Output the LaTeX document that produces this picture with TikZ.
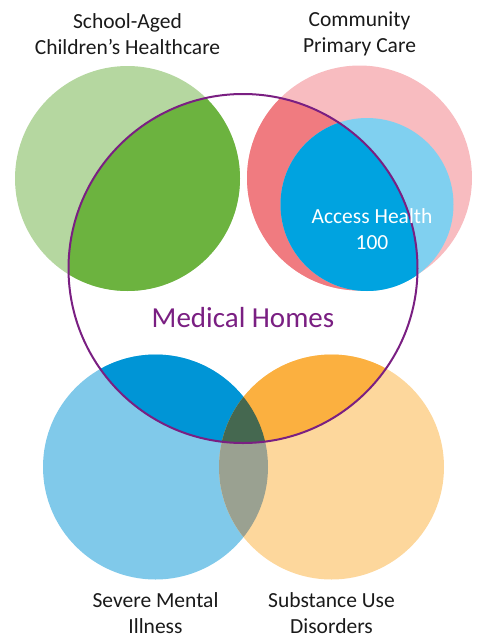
\documentclass[tikz,border=0pt]{standalone}
\usepackage{fontspec}
\setmainfont{Carlito}
\definecolor{greenL}{HTML}{B5D7A0}
\definecolor{greenD}{HTML}{6CB33F}
\definecolor{pinkL}{HTML}{F8BCC0}
\definecolor{pinkD}{HTML}{F07B80}
\definecolor{cyanL}{HTML}{80D0F0}
\definecolor{cyanD}{HTML}{00A3E0}
\definecolor{blueL}{HTML}{80C9EA}
\definecolor{blueD}{HTML}{0095D6}
\definecolor{orangeL}{HTML}{FDD79C}
\definecolor{orangeD}{HTML}{FBB040}
\definecolor{grayL}{HTML}{9AA191}
\definecolor{grayD}{HTML}{456850}
\definecolor{purpleM}{HTML}{7A1F82}
\definecolor{textC}{HTML}{1A1A1A}
\begin{document}
\begin{tikzpicture}[x=1pt,y=-1pt,
  lbl/.style={align=center,text=textC,font=\fontsize{21.5}{26}\selectfont,inner sep=0pt},
  inlbl/.style={align=center,text=white,font=\fontsize{21.5}{26}\selectfont,inner sep=0pt},
  bigl/.style={text=purpleM,font=\fontsize{29}{34}\selectfont,inner sep=0pt}]
\useasboundingbox (0,0) rectangle (477,638);
\def\MH{(243,268.5) circle[radius=174.5pt]}
\def\GC{(127.5,178.5) circle[radius=112.5pt]}
\def\PC{(359.5,178) circle[radius=112.5pt]}
\def\CC{(367,204.5) circle[radius=86.5pt]}
\def\BC{(155.5,467) circle[radius=112.5pt]}
\def\OC{(331.5,467) circle[radius=112.5pt]}
% top-left
\fill[greenL] \GC;
\begin{scope}\clip \MH; \fill[greenD] \GC; \end{scope}
% top-right
\fill[pinkL] \PC;
\begin{scope}\clip \MH; \fill[pinkD] \PC; \end{scope}
\fill[cyanL] \CC;
\begin{scope}\clip \MH; \fill[cyanD] \CC; \end{scope}
% bottom
\fill[blueL] \BC;
\fill[orangeL] \OC;
\begin{scope}\clip \BC; \fill[grayL] \OC; \end{scope}
\begin{scope}\clip \MH;
  \fill[blueD] \BC;
  \fill[orangeD] \OC;
  \begin{scope}\clip \BC; \fill[grayD] \OC; \end{scope}
\end{scope}
% outline
\draw[purpleM,line width=2pt] \MH;
% labels
\node[lbl] (sch) at (127.5,34) {School-Aged\\Children’s Healthcare};
\node[lbl] (com) at (359.5,34) {Community\\Primary Care};
\node[inlbl] (acc) at (372,229) {Access Health\\100};
\node[bigl] (med) at (243,318) {Medical Homes};
\node[lbl] (smi) at (155.5,613) {Severe Mental\\Illness};
\node[lbl] (sud) at (331.5,613) {Substance Use\\Disorders};
\end{tikzpicture}
\end{document}
